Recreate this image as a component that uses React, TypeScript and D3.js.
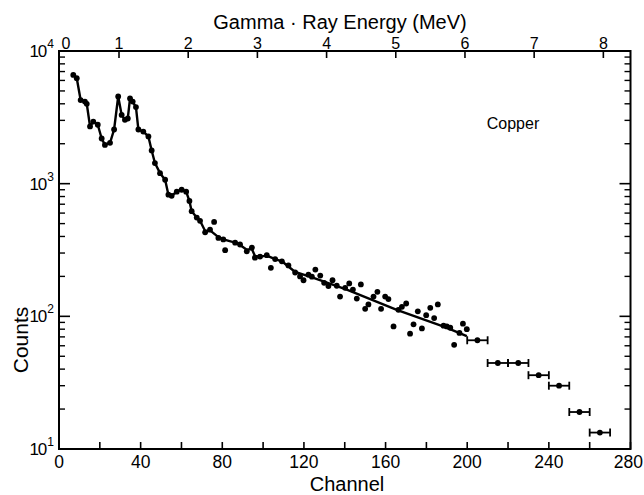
import React from 'react';
import * as d3 from 'd3';

// Measured spectrum points (channel, counts)
const POINT_CHANNELS = [
  7.0, 8.7, 10.6, 12.7, 13.6, 15.2, 16.8, 19.0, 20.9, 22.5, 25.0, 27.0, 29.0, 30.7, 32.3, 33.7,
  34.8, 36.1, 37.7, 38.9, 41.3, 43.8, 45.4, 47.0, 49.5, 52.0, 53.6, 55.2, 57.7, 60.1, 62.3, 63.9,
  65.0, 67.5, 69.1, 71.6, 74.0, 76.0, 78.1, 80.5, 81.4, 86.3, 88.7, 92.0, 94.5, 96.0, 98.5, 101.8,
  103.8, 105.9, 109.2, 112.4, 115.7, 118.1, 119.8, 122.2, 123.9, 125.6, 128.0, 129.9, 132.0, 134.0,
  136.1, 137.7, 140.2, 142.2, 144.0, 145.9, 147.9, 150.0, 151.6, 154.1, 156.0, 157.8, 159.8, 161.4,
  163.9, 166.3, 168.0, 170.1, 172.0, 173.7, 175.8, 177.8, 179.9, 181.9, 183.8, 185.6, 188.4, 190.0,
  191.7, 193.6, 196.2, 197.9, 199.8,
];
const POINT_COUNTS = [
  6600, 6240, 4270, 4160, 4000, 2700, 2940, 2780, 2190, 1960, 2030, 2560, 4540, 3300, 3030, 3100,
  4390, 4160, 3780, 2560, 2470, 2270, 1780, 1430, 1200, 1070, 826, 810, 870, 900, 870, 740,
  620, 555, 525, 430, 450, 515, 390, 380, 315, 359, 348, 309, 330, 277, 282, 289,
  232, 270, 260, 242, 214, 200, 187, 206, 199, 225, 203, 179, 169, 187,
  170, 141, 164, 177, 159, 136, 174, 114, 123, 141, 153, 114, 141, 135,
  84, 112, 118, 125, 74, 87, 109, 81, 102, 116, 97, 123, 85, 84,
  82, 61, 75, 88, 80,
];

// Drawn curve through the spectrum
const CURVE_CHANNELS = [
  7.0, 8.7, 10.6, 12.7, 13.6, 15.2, 16.8, 19.0, 20.9, 22.5, 25.0, 27.0, 29.0, 30.7, 32.3, 33.7,
  34.8, 36.1, 37.7, 38.9, 41.3, 43.8, 45.4, 47.0, 49.5, 52.0, 53.6, 55.2, 57.7, 60.1, 62.3, 63.9,
  65.0, 67.5, 69.1, 71.6, 74.0, 78.1, 80.5, 86.3, 88.7, 92.0, 94.5, 96.0, 98.5, 101.8, 105.9, 109.2,
  115.7, 124.7, 141.0, 165.5, 189.2, 199.8,
];
const CURVE_COUNTS = [
  6600, 6240, 4270, 4160, 4000, 2700, 2940, 2780, 2190, 1960, 2030, 2560, 4540, 3300, 3030, 3100,
  4390, 4160, 3780, 2560, 2470, 2270, 1780, 1430, 1200, 1070, 826, 810, 870, 900, 870, 740,
  620, 555, 525, 440, 445, 395, 380, 359, 345, 318, 322, 285, 282, 287, 270, 260,
  216, 195, 159, 112, 83, 71,
];

// Binned points with horizontal error bars
const BIN_START = [200, 210, 220, 230, 240, 250, 260];
const BIN_END = [210, 220, 230, 240, 250, 260, 270];
const BIN_COUNTS = [66, 44.5, 44.5, 36, 30, 19, 13.3];

// Axes
const CHANNEL_TICKS = [0, 20, 40, 60, 80, 100, 120, 140, 160, 180, 200, 220, 240, 260, 280];
const CHANNEL_LABELS = [0, 40, 80, 120, 160, 200, 240, 280];
const ENERGY_TICKS = [1, 2, 3, 4, 5, 6, 7, 8];
const DECADE_EXPONENTS = [1, 2, 3, 4];
const MINOR_MULTIPLIERS = [2, 3, 4, 5, 6, 7, 8, 9];

// Energy calibration: channel = offset + perMeV * E
const ENERGY_OFFSET_CHANNEL = -4.5;
const CHANNELS_PER_MEV = 33.9;

const W = 644;
const H = 495;
const L = 59;
const R = 630.5;
const T = 51;
const B = 449;
const FONT = "'Liberation Sans', Arial, sans-serif";

export default function App() {
  const x = d3.scaleLinear().domain([0, 280]).range([L, R]);
  const y = d3.scaleLog().domain([10, 10000]).range([B, T]);
  const chOfE = (e: number) => ENERGY_OFFSET_CHANNEL + CHANNELS_PER_MEV * e;

  const curve = d3
    .line<number>()
    .x((_, i) => x(CURVE_CHANNELS[i]))
    .y((_, i) => y(CURVE_COUNTS[i]))
    .curve(d3.curveLinear)(CURVE_CHANNELS);

  const minorVals: number[] = [];
  DECADE_EXPONENTS.slice(0, 3).forEach((p) => MINOR_MULTIPLIERS.forEach((m) => minorVals.push(m * Math.pow(10, p))));

  return (
    <svg width={W} height={H} style={{ position: 'absolute', left: 0, top: 0, background: '#fff' }} fontFamily={FONT}>
      <rect x={0} y={0} width={W} height={H} fill="#fff" />
      {/* frame */}
      <rect x={L} y={T} width={R - L} height={B - T} fill="none" stroke="#000" strokeWidth={2} />

      {/* bottom ticks */}
      {CHANNEL_TICKS.map((c) => (
        <line key={'bt' + c} x1={x(c)} x2={x(c)} y1={B} y2={B - 7} stroke="#000" strokeWidth={1.6} />
      ))}
      {CHANNEL_LABELS.map((c, i) => {
        const last = i === CHANNEL_LABELS.length - 1;
        return (
          <text key={'bl' + c} x={last ? W - 1 : x(c)} y={467.5} fontSize={17.5} textAnchor={last ? 'end' : 'middle'}>
            {c}
          </text>
        );
      })}

      {/* top ticks */}
      {ENERGY_TICKS.map((e) => (
        <line key={'tt' + e} x1={x(chOfE(e))} x2={x(chOfE(e))} y1={T} y2={T + 7} stroke="#000" strokeWidth={1.6} />
      ))}
      {ENERGY_TICKS.map((e) => (
        <text key={'tl' + e} x={x(chOfE(e))} y={48.5} fontSize={16} textAnchor="middle">
          {e}
        </text>
      ))}
      <text x={L + 7} y={48.5} fontSize={16} textAnchor="middle">0</text>

      {/* left & right ticks */}
      {DECADE_EXPONENTS.map((p) => (
        <g key={'mj' + p}>
          <line x1={L} x2={L + 11} y1={y(Math.pow(10, p))} y2={y(Math.pow(10, p))} stroke="#000" strokeWidth={1.6} />
          <line x1={R} x2={R - 11} y1={y(Math.pow(10, p))} y2={y(Math.pow(10, p))} stroke="#000" strokeWidth={1.6} />
          <text x={53} y={y(Math.pow(10, p)) + 6} fontSize={17} textAnchor="end" letterSpacing={-1}>
            10
            <tspan fontSize={12} dy={-9} dx={1}>{p}</tspan>
          </text>
        </g>
      ))}
      {minorVals.map((v) => (
        <g key={'mn' + v}>
          <line x1={L} x2={L + 6} y1={y(v)} y2={y(v)} stroke="#000" strokeWidth={1.4} />
          <line x1={R} x2={R - 6} y1={y(v)} y2={y(v)} stroke="#000" strokeWidth={1.4} />
        </g>
      ))}

      {/* curve */}
      <path d={curve || ''} fill="none" stroke="#000" strokeWidth={2.4} strokeLinejoin="round" />

      {/* points */}
      {POINT_CHANNELS.map((c, i) => (
        <circle key={'p' + i} cx={x(c)} cy={y(POINT_COUNTS[i])} r={2.9} fill="#000" />
      ))}

      {/* error bars */}
      {BIN_START.map((s, i) => {
        const yy = y(BIN_COUNTS[i]);
        return (
          <g key={'eb' + i}>
            <line x1={x(s)} x2={x(BIN_END[i])} y1={yy} y2={yy} stroke="#000" strokeWidth={1.8} />
            <line x1={x(s)} x2={x(s)} y1={yy - 4} y2={yy + 4} stroke="#000" strokeWidth={1.8} />
            <line x1={x(BIN_END[i])} x2={x(BIN_END[i])} y1={yy - 4} y2={yy + 4} stroke="#000" strokeWidth={1.8} />
            <circle cx={x((s + BIN_END[i]) / 2)} cy={yy} r={2.9} fill="#000" />
          </g>
        );
      })}

      {/* labels */}
      <text x={340} y={28.5} fontSize={20} textAnchor="middle">Gamma · Ray Energy (MeV)</text>
      <text x={347} y={490.5} fontSize={20} textAnchor="middle">Channel</text>
      <text transform="translate(28,340) rotate(-90)" fontSize={21} textAnchor="middle">Counts</text>
      <text x={513} y={129} fontSize={16} textAnchor="middle">Copper</text>
    </svg>
  );
}
